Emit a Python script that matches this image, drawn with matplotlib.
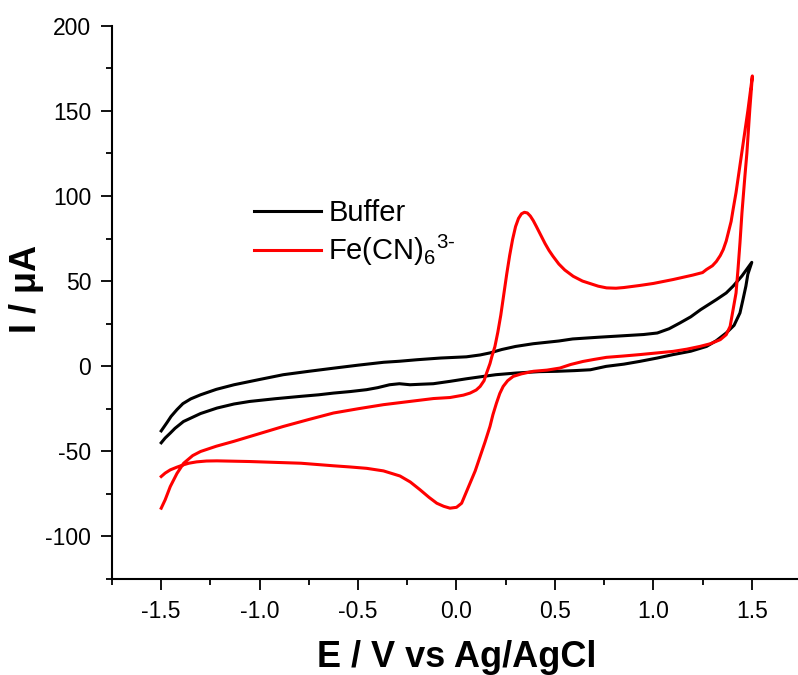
import matplotlib
matplotlib.use("Agg")
import matplotlib.pyplot as plt
from matplotlib.ticker import MultipleLocator

# ---- data ----
buffer_E = [-1.50, -1.47, -1.45, -1.42, -1.39, -1.35, -1.30, -1.22, -1.13, -1.00, -0.88, -0.75,
            -0.62, -0.50, -0.37, -0.29, -0.20, -0.08, 0.05, 0.12, 0.17, 0.23, 0.30, 0.39,
            0.52, 0.59, 0.72, 0.85, 0.95, 1.02, 1.08, 1.135, 1.19, 1.24, 1.32, 1.37, 1.405,
            1.45, 1.50,
            1.48, 1.47, 1.455, 1.44, 1.41, 1.37, 1.32, 1.27, 1.19, 1.10, 1.02, 0.93, 0.85,
            0.76, 0.68, 0.60, 0.51, 0.42, 0.305, 0.20, 0.136, 0.05, -0.033, -0.118, -0.18,
            -0.236, -0.29, -0.34, -0.40, -0.457, -0.54, -0.625, -0.70, -0.79, -0.92, -1.05,
            -1.13, -1.217, -1.30, -1.387, -1.43, -1.454, -1.48, -1.50]
buffer_I = [-38.0, -33.0, -29.5, -25.5, -22.0, -19.2, -16.8, -13.6, -10.9, -7.8, -5.0, -3.0,
            -1.1, 0.6, 2.3, 2.9, 3.8, 4.8, 5.5, 6.6, 7.8, 9.8, 11.6, 13.2,
            14.8, 16.0, 17.0, 17.9, 18.6, 19.5, 22.0, 25.4, 29.0, 33.2, 39.1, 43.0, 47.0,
            53.0, 61.0,
            54.0, 47.0, 39.0, 31.3, 24.0, 19.5, 15.0, 11.6, 8.8, 6.8, 4.8, 2.8, 1.2,
            -0.1, -2.1, -2.6, -3.0, -3.2, -4.0, -5.0, -6.0, -7.4, -8.9, -10.3, -10.6,
            -10.9, -10.3, -10.9, -12.6, -13.8, -14.9, -15.8, -16.8, -17.7, -19.1, -20.7,
            -22.2, -24.6, -27.8, -32.5, -36.5, -39.3, -42.2, -45.0]

fecn_E = [-1.50, -1.48, -1.454, -1.42, -1.386, -1.34, -1.30, -1.22, -1.133, -1.00, -0.88, -0.75,
          -0.625, -0.50, -0.371, -0.287, -0.20, -0.117, -0.033, 0.035, 0.069, 0.10, 0.12,
          0.14, 0.153, 0.17, 0.18, 0.195, 0.21, 0.225, 0.24, 0.255, 0.27, 0.285, 0.30,
          0.315, 0.33, 0.345, 0.36, 0.375, 0.39, 0.406, 0.43, 0.45, 0.47, 0.49, 0.52,
          0.55, 0.593, 0.64, 0.68, 0.72, 0.762, 0.81, 0.85, 0.93, 1.00, 1.10, 1.20,
          1.25, 1.27, 1.30, 1.32, 1.34, 1.355, 1.37, 1.38, 1.395, 1.405, 1.42, 1.43,
          1.456, 1.48, 1.503,
          1.49, 1.475, 1.465, 1.45, 1.44, 1.43, 1.42, 1.40, 1.39, 1.37, 1.34, 1.29,
          1.236, 1.17, 1.10, 1.02, 0.93, 0.85, 0.762, 0.70, 0.643, 0.58, 0.525, 0.46,
          0.39, 0.33, 0.288, 0.26, 0.237, 0.22, 0.203, 0.185, 0.17, 0.145, 0.12, 0.095,
          0.069, 0.045, 0.026, 0.0, -0.033, -0.065, -0.10, -0.14, -0.185, -0.235, -0.287,
          -0.371, -0.456, -0.54, -0.625, -0.79, -0.92, -1.05, -1.13, -1.217, -1.27,
          -1.32, -1.36, -1.386, -1.42, -1.454, -1.48, -1.50]
fecn_I = [-83.4, -78.5, -70.7, -63.0, -57.0, -52.5, -50.1, -47.0, -44.2, -39.6, -35.4, -31.3,
          -27.5, -25.0, -22.6, -21.4, -20.2, -19.0, -18.4, -17.0, -15.8, -14.0, -11.9,
          -8.5, -4.0, 1.5, 5.8, 11.5, 20.0, 30.0, 42.0, 54.0, 65.0, 74.5, 82.0,
          86.8, 89.5, 90.4, 90.0, 88.2, 85.5, 82.0, 76.5, 72.0, 68.0, 64.6, 60.0,
          56.5, 52.8, 50.0, 48.5, 47.0, 46.0, 45.8, 46.2, 47.4, 48.6, 50.9, 53.5,
          55.0, 56.8, 59.0, 61.5, 65.0, 68.5, 73.5, 78.0, 85.0, 92.0, 102.0, 110.0,
          131.0, 150.0, 170.5,
          150.9, 125.0, 111.6, 90.0, 72.5, 57.0, 43.0, 30.0, 23.4, 18.5, 15.6, 13.2,
          11.6, 10.0, 8.7, 7.8, 6.8, 6.0, 5.2, 4.0, 2.8, 1.0, -1.1, -2.3,
          -3.0, -4.5, -6.0, -8.5, -11.9, -16.0, -21.7, -28.5, -35.4, -44.5, -53.0, -61.5,
          -68.7, -75.5, -80.5, -82.9, -83.4, -82.3, -80.5, -77.0, -72.6, -68.0, -64.5,
          -61.5, -60.0, -59.2, -58.5, -57.0, -56.5, -56.0, -55.8, -55.6, -55.7,
          -56.2, -57.0, -57.9, -59.3, -60.9, -62.8, -64.8]

series_labels = ["Buffer", r"Fe(CN)$_{6}{}^{3\text{-}}$"]
series_colors = ["#000000", "#ff0000"]

xticks = [-1.5, -1.0, -0.5, 0.0, 0.5, 1.0, 1.5]
yticks = [-100, -50, 0, 50, 100, 150, 200]

# ---- style ----
plt.rcParams["font.family"] = ["Liberation Sans", "DejaVu Sans"]
plt.rcParams["mathtext.fontset"] = "custom"
plt.rcParams["mathtext.rm"] = "Liberation Sans"
plt.rcParams["mathtext.it"] = "Liberation Sans"
plt.rcParams["mathtext.default"] = "regular"
plt.rcParams["axes.unicode_minus"] = False

W, H = 798, 675
fig = plt.figure(figsize=(W / 100, H / 100), dpi=100)
left_px, right_px, top_px, bot_px = 112, 801, 25.7, 579
ax = fig.add_axes([left_px / W, 1 - bot_px / H, (right_px - left_px) / W, (bot_px - top_px) / H])

ax.plot(buffer_E, buffer_I, color=series_colors[0], lw=2.2, label=series_labels[0],
        solid_joinstyle="round")
ax.plot(fecn_E, fecn_I, color=series_colors[1], lw=2.2, label=series_labels[1],
        solid_joinstyle="round")

ax.set_xlim(-1.75, 1.75)
ax.set_ylim(-125, 200)
ax.set_xticks(xticks)
ax.set_xticklabels([f"{v:.1f}" for v in xticks])
ax.set_yticks(yticks)
ax.xaxis.set_minor_locator(MultipleLocator(0.25))
ax.yaxis.set_minor_locator(MultipleLocator(25))

for s in ["top", "right"]:
    ax.spines[s].set_visible(False)
for s in ["left", "bottom"]:
    ax.spines[s].set_linewidth(1.5)

ax.tick_params(which="major", direction="out", length=8, width=1.3, labelsize=16.5, pad=7)
ax.tick_params(which="minor", direction="out", length=4, width=1.3)

ax.set_xlabel("E / V vs Ag/AgCl", fontsize=26, fontweight="bold")
ax.set_ylabel("I / \u03bcA", fontsize=26, fontweight="bold")
ax.xaxis.set_label_coords((457 - left_px) / (right_px - left_px), (bot_px - 640) / (bot_px - top_px))
ax.yaxis.set_label_coords((44 - left_px) / (right_px - left_px), (bot_px - 288.5) / (bot_px - top_px))

leg = ax.legend(loc="upper left", bbox_to_anchor=(254 / W, 1 - 199 / H),
                bbox_transform=fig.transFigure, frameon=False, fontsize=21,
                handlelength=2.3, handletextpad=0.25, borderpad=0, borderaxespad=0,
                labelspacing=0.2)
for h in leg.get_lines():
    h.set_linewidth(2.2)

fig.savefig("out.png", dpi=100)
